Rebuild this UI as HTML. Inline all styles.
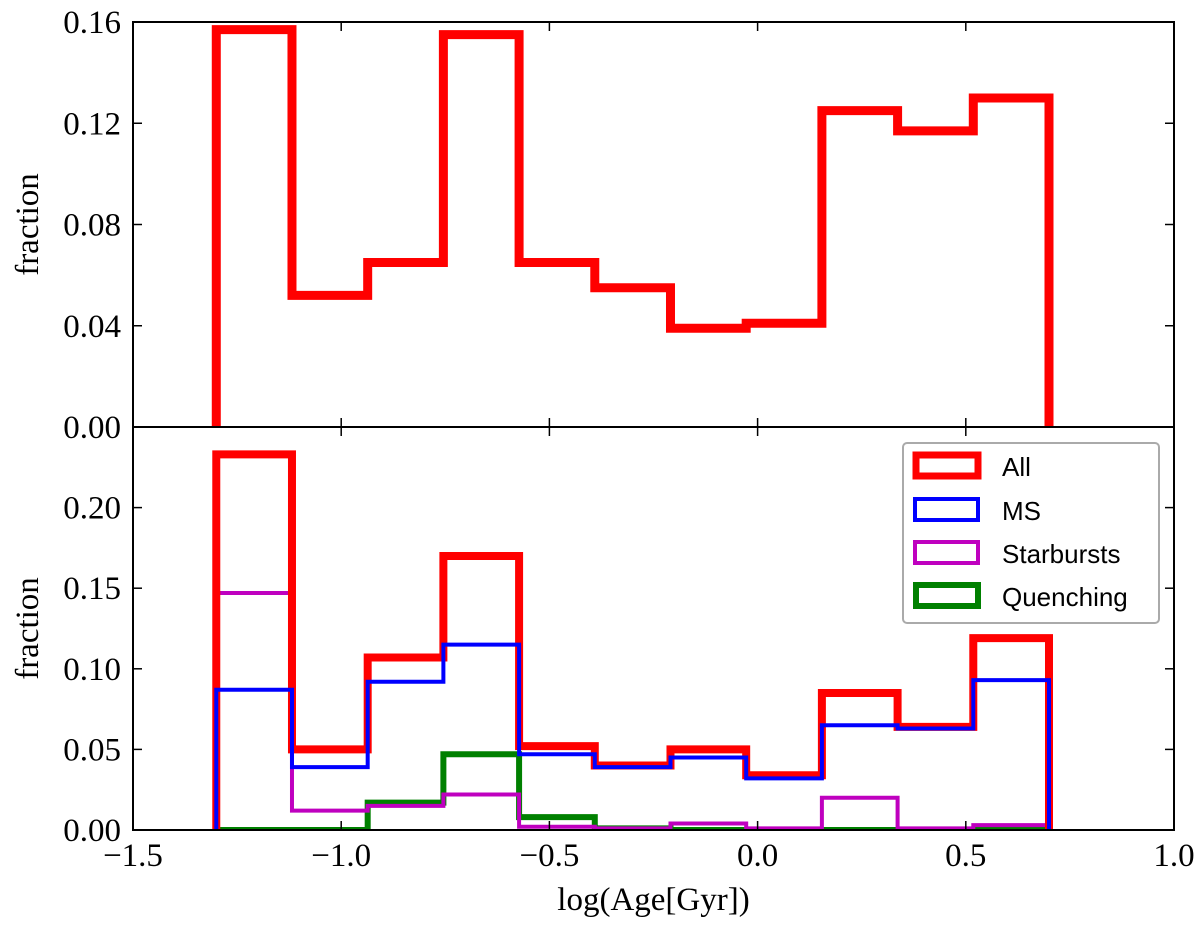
<!DOCTYPE html>
<html><head><meta charset="utf-8"><style>
body{margin:0;background:#fff}
svg text{font-family:"Liberation Serif",serif}
</style></head><body>
<svg id="c" width="1200" height="933" xmlns="http://www.w3.org/2000/svg">
<defs>
<clipPath id="ct"><rect x="133" y="22" width="1041" height="405"/></clipPath>
<clipPath id="cb"><rect x="133" y="427" width="1041" height="403"/></clipPath>
</defs>
<g id="plot"></g>
<g>
<rect x="903" y="443" width="256" height="180" rx="4" fill="#fff" stroke="#aaa" stroke-width="2"/>
<g><rect x="916" y="455" width="62" height="21" fill="none" stroke="#f00" stroke-width="7"/><text x="1002" y="476" font-size="26" style="font-family:'Liberation Sans',sans-serif">All</text></g>
<g><rect x="915" y="499" width="63" height="21" fill="none" stroke="#00f" stroke-width="4"/><text x="1002" y="520" font-size="26" style="font-family:'Liberation Sans',sans-serif">MS</text></g>
<g><rect x="915" y="542" width="63" height="21" fill="none" stroke="#bf00bf" stroke-width="4"/><text x="1002" y="563" font-size="26" style="font-family:'Liberation Sans',sans-serif">Starbursts</text></g>
<g><rect x="916" y="585" width="62" height="21" fill="none" stroke="#008000" stroke-width="6"/><text x="1002" y="606" font-size="26" style="font-family:'Liberation Sans',sans-serif">Quenching</text></g>
</g>
</svg>
<script>
const binStart=-1.30, binWidth=0.1818;
const topAll=[0.157,0.052,0.065,0.155,0.065,0.055,0.039,0.041,0.125,0.117,0.130];
const botAll=[0.233,0.050,0.107,0.170,0.052,0.040,0.050,0.034,0.085,0.064,0.119];
const botMS=[0.087,0.039,0.092,0.115,0.047,0.039,0.045,0.032,0.065,0.063,0.093];
const botSB=[0.147,0.012,0.015,0.022,0.002,0.001,0.004,0.001,0.020,0.001,0.003];
const botQ=[0.0,0.0,0.017,0.047,0.008,0.001,0.0,0.0,0.0,0.0,0.0];
const xTicks=[-1.5,-1.0,-0.5,0.0,0.5,1.0];
const xTickLabels=["\u22121.5","\u22121.0","\u22120.5","0.0","0.5","1.0"];
const topYTicks=[0,0.04,0.08,0.12,0.16];
const topYLabels=["0.00","0.04","0.08","0.12","0.16"];
const botYTicks=[0,0.05,0.10,0.15,0.20];
const botYLabels=["0.00","0.05","0.10","0.15","0.20"];
const NS="http://www.w3.org/2000/svg";
const L=133,R=1174,T1=22,B1=427,T2=427,B2=830;
const x=v=>L+(v+1.5)/2.5*(R-L);
const y1=v=>B1-v/0.16*(B1-T1);
const y2=v=>B2-v/0.25*(B2-T2);
const g=document.getElementById('plot');
function mk(tag,at,parent){const e=document.createElementNS(NS,tag);for(const k in at)e.setAttribute(k,at[k]);(parent||g).appendChild(e);return e;}
function step(vals,ys,color,w,clip,name){
  let d="M"+x(binStart)+","+ys(0);
  vals.forEach((v,i)=>{d+=" L"+x(binStart+i*binWidth)+","+ys(v)+" L"+x(binStart+(i+1)*binWidth)+","+ys(v);});
  d+=" L"+x(binStart+vals.length*binWidth)+","+ys(0);
  const p=mk('path',{d:d,fill:'none',stroke:color,'stroke-width':w,'clip-path':'url(#'+clip+')','stroke-linejoin':'miter'});
  
  
}
step(topAll,y1,'#f00',9,'ct','top-all-histogram');
step(botQ,y2,'#008000',6,'cb','quenching-histogram');
step(botSB,y2,'#bf00bf',4,'cb','starbursts-histogram');
step(botAll,y2,'#f00',8,'cb','all-histogram');
step(botMS,y2,'#00f',4,'cb','ms-histogram');
[[T1,B1,'top-axes-frame'],[T2,B2,'bottom-axes-frame']].forEach(a=>{
  const r=mk('rect',{x:L,y:a[0],width:R-L,height:a[1]-a[0],fill:'none',stroke:'#000','stroke-width':2});
  
  
});
xTicks.forEach((v,i)=>{
  const X=x(v);
  [[T1,1],[B1,-1],[T2,1],[B2,-1]].forEach(s=>mk('line',{x1:X,x2:X,y1:s[0],y2:s[0]+s[1]*9,stroke:'#000','stroke-width':1.5}));
  const t=mk('text',{x:X,y:866,'font-size':33,'text-anchor':'middle'});
  t.textContent=xTickLabels[i];
  
  
});
function yt(ticks,labels,ys){
  ticks.forEach((v,i)=>{
    const Y=ys(v);
    mk('line',{x1:L,x2:L+9,y1:Y,y2:Y,stroke:'#000','stroke-width':1.5});
    mk('line',{x1:R,x2:R-9,y1:Y,y2:Y,stroke:'#000','stroke-width':1.5});
    const t=mk('text',{x:L-12,y:Y+11,'font-size':33,'text-anchor':'end'});
    t.textContent=labels[i];
    
    
  });
}
yt(topYTicks,topYLabels,y1);
yt(botYTicks,botYLabels,y2);
const xl=mk('text',{x:(L+R)/2,y:910,'font-size':33,'text-anchor':'middle'});
xl.textContent='log(Age[Gyr])';


[[(T1+B1)/2,'top-y-axis-title'],[(T2+B2)/2,'bottom-y-axis-title']].forEach(a=>{
  const t=mk('text',{x:38,y:a[0],'font-size':33,'text-anchor':'middle',transform:'rotate(-90 38 '+a[0]+')'});
  t.textContent='fraction';
  
  
});
</script>
</body></html>
